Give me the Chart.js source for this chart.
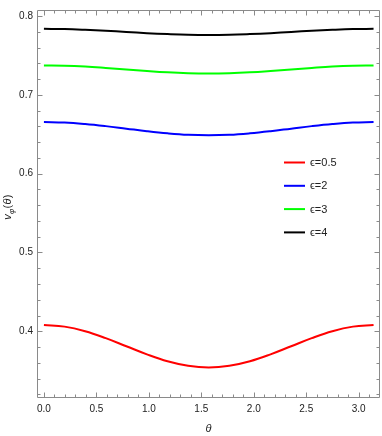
<!DOCTYPE html>
<html>
<head>
<meta charset="utf-8">
<script src="https://cdn.jsdelivr.net/npm/chart.js@4.4.1/dist/chart.umd.min.js"></script>
<style>
html,body{margin:0;padding:0;background:#fff;}
#wrap{width:382px;height:436px;position:relative;}
</style>
</head>
<body>
<div id="wrap"><canvas id="c" width="382" height="436"></canvas></div>
<script>
// θ sample positions (0 … π)
const thetas = [0, 0.1963, 0.3927, 0.5890, 0.7854, 0.9817, 1.1781, 1.3744, 1.5708, 1.7671, 1.9635, 2.1598, 2.3562, 2.5525, 2.7489, 2.9452, 3.1416];
// v_φ(θ) for each ϵ
const eps05 = [0.4080, 0.4059, 0.4001, 0.3913, 0.3810, 0.3707, 0.3619, 0.3561, 0.3540, 0.3561, 0.3619, 0.3707, 0.3810, 0.3913, 0.4001, 0.4059, 0.4080];
const eps2  = [0.6656, 0.6650, 0.6631, 0.6604, 0.6572, 0.6540, 0.6513, 0.6494, 0.6488, 0.6494, 0.6513, 0.6540, 0.6572, 0.6604, 0.6631, 0.6650, 0.6656];
const eps3  = [0.7375, 0.7371, 0.7360, 0.7343, 0.7324, 0.7304, 0.7287, 0.7276, 0.7272, 0.7276, 0.7287, 0.7304, 0.7324, 0.7343, 0.7360, 0.7371, 0.7375];
const eps4  = [0.7839, 0.7836, 0.7827, 0.7815, 0.7800, 0.7784, 0.7772, 0.7763, 0.7760, 0.7763, 0.7772, 0.7784, 0.7800, 0.7815, 0.7827, 0.7836, 0.7839];
const seriesLabels = ['ϵ=0.5', 'ϵ=2', 'ϵ=3', 'ϵ=4'];
const seriesColors = ['#ff0000', '#0000ff', '#00ff00', '#000000'];
// ticks
const xMajorTicks = [0, 0.5, 1.0, 1.5, 2.0, 2.5, 3.0];
const xMinorTicks = [0.1, 0.2, 0.3, 0.4, 0.6, 0.7, 0.8, 0.9, 1.1, 1.2, 1.3, 1.4, 1.6, 1.7, 1.8, 1.9, 2.1, 2.2, 2.3, 2.4, 2.6, 2.7, 2.8, 2.9, 3.1];
const yMajorTicks = [0.4, 0.5, 0.6, 0.7, 0.8];
const yMinorTicks = [0.32, 0.34, 0.36, 0.38, 0.42, 0.44, 0.46, 0.48, 0.52, 0.54, 0.56, 0.58, 0.62, 0.64, 0.66, 0.68, 0.72, 0.74, 0.76, 0.78];
const xTitle = 'θ';

const allSeries = [eps05, eps2, eps3, eps4];
const datasets = allSeries.map((arr, i) => ({
  label: seriesLabels[i],
  data: thetas.map((t, k) => ({x: t, y: arr[k]})),
  borderColor: seriesColors[i],
  backgroundColor: seriesColors[i],
  borderWidth: 2,
  pointRadius: 0,
  fill: false,
  tension: 0.4
}));

const FRAME = '#8a8a8a';
const LABEL = '#222';

const framePlugin = {
  id: 'frame',
  afterDatasetsDraw(chart) {
    const ctx = chart.ctx, a = chart.chartArea;
    const xs = chart.scales.x, ys = chart.scales.y;
    ctx.save();
    ctx.strokeStyle = FRAME;
    ctx.lineWidth = 1;
    const L = Math.round(a.left) + 0.5, R = Math.round(a.right) - 0.5;
    const T = Math.round(a.top) + 0.5, B = Math.round(a.bottom) - 0.5;
    ctx.beginPath();
    ctx.rect(L, T, R - L, B - T);
    ctx.stroke();
    ctx.beginPath();
    const tickX = (v, len) => {
      const p = Math.round(xs.getPixelForValue(v)) + 0.5;
      ctx.moveTo(p, B); ctx.lineTo(p, B - len);
      ctx.moveTo(p, T); ctx.lineTo(p, T + len);
    };
    const tickY = (v, len) => {
      const p = Math.round(ys.getPixelForValue(v)) + 0.5;
      ctx.moveTo(L, p); ctx.lineTo(L + len, p);
      ctx.moveTo(R, p); ctx.lineTo(R - len, p);
    };
    xMajorTicks.forEach(v => tickX(v, 5));
    xMinorTicks.forEach(v => tickX(v, 3));
    yMajorTicks.forEach(v => tickY(v, 5));
    yMinorTicks.forEach(v => tickY(v, 3));
    ctx.stroke();

    // legend inside plot
    const lx0 = 284, lx1 = 305, tx = 310, ly0 = 162.5, dy = 23.3;
    chart.data.datasets.forEach((ds, i) => {
      const yy = ly0 + i * dy;
      ctx.strokeStyle = ds.borderColor;
      ctx.lineWidth = 2;
      ctx.beginPath();
      ctx.moveTo(lx0, yy); ctx.lineTo(lx1, yy);
      ctx.stroke();
      ctx.fillStyle = LABEL;
      ctx.font = '11px "Liberation Sans", Arial, sans-serif';
      ctx.textBaseline = 'middle';
      ctx.textAlign = 'left';
      ctx.fillText(ds.label, tx, yy + 0.5);
    });

    // axis titles
    ctx.fillStyle = LABEL;
    ctx.textBaseline = 'alphabetic';
    ctx.textAlign = 'center';
    ctx.font = 'italic 11px "Liberation Sans", Arial, sans-serif';
    ctx.fillText(xTitle, (a.left + a.right) / 2, 432);

    // y title: v_φ(θ)
    ctx.save();
    ctx.translate(11, 207);
    ctx.rotate(-Math.PI / 2);
    const parts = [
      {t: 'v', f: 'italic 11px "Liberation Sans", Arial, sans-serif', dy: 0},
      {t: 'φ', f: 'italic 8px "Liberation Sans", Arial, sans-serif', dy: 2.5},
      {t: '(', f: '11px "Liberation Sans", Arial, sans-serif', dy: 0},
      {t: 'θ', f: 'italic 11px "Liberation Sans", Arial, sans-serif', dy: 0},
      {t: ')', f: '11px "Liberation Sans", Arial, sans-serif', dy: 0}
    ];
    let total = 0;
    parts.forEach(p => { ctx.font = p.f; p.w = ctx.measureText(p.t).width; total += p.w + 0.3; });
    let cx = -total / 2;
    ctx.textAlign = 'left';
    parts.forEach(p => { ctx.font = p.f; ctx.fillText(p.t, cx, p.dy); cx += p.w + 0.3; });
    ctx.restore();
    ctx.restore();
  }
};

new Chart(document.getElementById('c'), {
  type: 'line',
  data: { datasets },
  plugins: [framePlugin],
  options: {
    responsive: false,
    animation: false,
    layout: { padding: { left: 0, right: 2, top: 1, bottom: 0 } },
    plugins: { legend: { display: false }, tooltip: { enabled: false } },
    scales: {
      x: {
        type: 'linear',
        min: -0.066,
        max: 3.203,
        grid: { display: false, drawTicks: false },
        border: { display: false },
        afterFit(scale) { scale.height = 38; },
        afterBuildTicks(scale) { scale.ticks = xMajorTicks.map(v => ({value: v})); },
        ticks: {
          padding: 5,
          maxRotation: 0,
          autoSkip: false,
          color: LABEL,
          font: { family: '"Liberation Sans", Arial, sans-serif', size: 10 },
          callback: v => Number(v).toFixed(1)
        }
      },
      y: {
        type: 'linear',
        min: 0.3153,
        max: 0.8078,
        grid: { display: false, drawTicks: false },
        border: { display: false },
        afterFit(scale) { scale.width = 37; },
        afterBuildTicks(scale) { scale.ticks = yMajorTicks.map(v => ({value: v})); },
        ticks: {
          padding: 4,
          autoSkip: false,
          color: LABEL,
          font: { family: '"Liberation Sans", Arial, sans-serif', size: 10 },
          callback: v => Number(v).toFixed(1)
        }
      }
    }
  }
});
</script>
</body>
</html>
